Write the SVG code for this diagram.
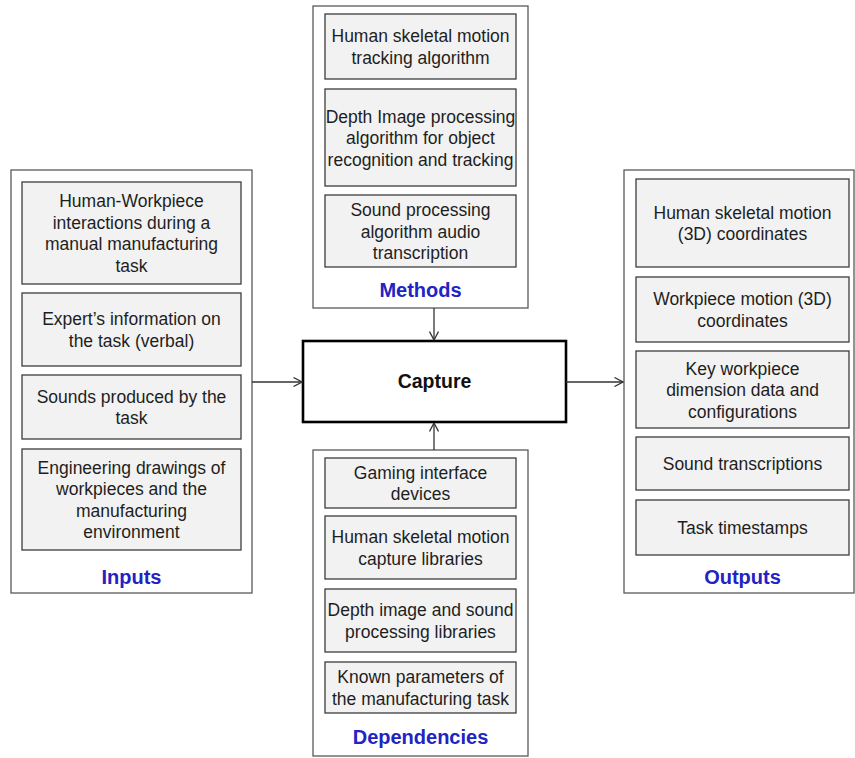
<svg xmlns="http://www.w3.org/2000/svg" width="855" height="758" viewBox="0 0 855 758">
  <style>
    .outer { fill: #ffffff; stroke: #5a5a5a; stroke-width: 1.3; }
    .inner { fill: #f2f2f2; stroke: #3c3c3c; stroke-width: 1.3; }
    .core { fill: #ffffff; stroke: #000000; stroke-width: 2.6; }
    .t { font-family: "Liberation Sans", Arial, sans-serif; font-size: 17.5px; fill: #1e1e1e; text-anchor: middle; }
    .head { font-family: "Liberation Sans", Arial, sans-serif; font-size: 20px; font-weight: bold; fill: #2323c4; text-anchor: middle; }
    .core-t { font-family: "Liberation Sans", Arial, sans-serif; font-size: 19.5px; font-weight: bold; fill: #111111; text-anchor: middle; }
    .conn { stroke: #333333; stroke-width: 1.3; fill: none; }
  </style>
  <defs>
    <marker id="chev" viewBox="0 0 10 10" refX="9.5" refY="5" markerWidth="10" markerHeight="10" markerUnits="userSpaceOnUse" orient="auto">
      <path d="M1,0.5 L9.5,5 L1,9.5" fill="none" stroke="#333333" stroke-width="1.3"/>
    </marker>
  </defs>
  <rect width="855" height="758" fill="#ffffff"/>

  <!-- Inputs -->
  <g id="inputs">
    <rect class="outer" x="11" y="170" width="241" height="423"/>
    <rect class="inner" x="22" y="182" width="219" height="102"/>
    <text class="t"><tspan x="131.5" y="207">Human-Workpiece</tspan><tspan x="131.5" y="228.5">interactions during a</tspan><tspan x="131.5" y="250">manual manufacturing</tspan><tspan x="131.5" y="271.5">task</tspan></text>
    <rect class="inner" x="22" y="293" width="219" height="73"/>
    <text class="t"><tspan x="131.5" y="325">Expert’s information on</tspan><tspan x="131.5" y="346.5">the task (verbal)</tspan></text>
    <rect class="inner" x="22" y="375" width="219" height="64"/>
    <text class="t"><tspan x="131.5" y="402.5">Sounds produced by the</tspan><tspan x="131.5" y="424">task</tspan></text>
    <rect class="inner" x="22" y="449" width="219" height="101"/>
    <text class="t"><tspan x="131.5" y="473.5">Engineering drawings of</tspan><tspan x="131.5" y="495">workpieces and the</tspan><tspan x="131.5" y="516.5">manufacturing</tspan><tspan x="131.5" y="538">environment</tspan></text>
    <text class="head" x="131.5" y="584">Inputs</text>
  </g>

  <!-- Methods -->
  <g id="methods">
    <rect class="outer" x="313" y="6" width="215" height="302"/>
    <rect class="inner" x="325" y="14" width="191" height="65"/>
    <text class="t"><tspan x="420.5" y="42">Human skeletal motion</tspan><tspan x="420.5" y="63.5">tracking algorithm</tspan></text>
    <rect class="inner" x="325" y="89" width="191" height="97"/>
    <text class="t"><tspan x="420.5" y="122.5">Depth Image processing</tspan><tspan x="420.5" y="144">algorithm for object</tspan><tspan x="420.5" y="165.5">recognition and tracking</tspan></text>
    <rect class="inner" x="325" y="195" width="191" height="72"/>
    <text class="t"><tspan x="420.5" y="216">Sound processing</tspan><tspan x="420.5" y="237.5">algorithm audio</tspan><tspan x="420.5" y="259">transcription</tspan></text>
    <text class="head" x="420.5" y="297">Methods</text>
  </g>

  <!-- Capture -->
  <g id="capture">
    <rect class="core" x="303" y="341" width="263" height="81"/>
    <text class="core-t" x="434.5" y="388">Capture</text>
  </g>

  <!-- Dependencies -->
  <g id="dependencies">
    <rect class="outer" x="313" y="450" width="215" height="306"/>
    <rect class="inner" x="325" y="458" width="191" height="50"/>
    <text class="t"><tspan x="420.5" y="478.5">Gaming interface</tspan><tspan x="420.5" y="500">devices</tspan></text>
    <rect class="inner" x="325" y="516" width="191" height="63"/>
    <text class="t"><tspan x="420.5" y="543">Human skeletal motion</tspan><tspan x="420.5" y="564.5">capture libraries</tspan></text>
    <rect class="inner" x="325" y="589" width="191" height="63"/>
    <text class="t"><tspan x="420.5" y="616">Depth image and sound</tspan><tspan x="420.5" y="637.5">processing libraries</tspan></text>
    <rect class="inner" x="325" y="662" width="191" height="51"/>
    <text class="t"><tspan x="420.5" y="683">Known parameters of</tspan><tspan x="420.5" y="704.5">the manufacturing task</tspan></text>
    <text class="head" x="420.5" y="744">Dependencies</text>
  </g>

  <!-- Outputs -->
  <g id="outputs">
    <rect class="outer" x="624" y="170" width="230" height="423"/>
    <rect class="inner" x="636" y="179" width="213" height="88"/>
    <text class="t"><tspan x="742.5" y="218.5">Human skeletal motion</tspan><tspan x="742.5" y="240">(3D) coordinates</tspan></text>
    <rect class="inner" x="636" y="277" width="213" height="65"/>
    <text class="t"><tspan x="742.5" y="305">Workpiece motion (3D)</tspan><tspan x="742.5" y="326.5">coordinates</tspan></text>
    <rect class="inner" x="636" y="351" width="213" height="77"/>
    <text class="t"><tspan x="742.5" y="374.5">Key workpiece</tspan><tspan x="742.5" y="396">dimension data and</tspan><tspan x="742.5" y="417.5">configurations</tspan></text>
    <rect class="inner" x="636" y="437" width="213" height="53"/>
    <text class="t" x="742.5" y="470">Sound transcriptions</text>
    <rect class="inner" x="636" y="500" width="213" height="55"/>
    <text class="t" x="742.5" y="534">Task timestamps</text>
    <text class="head" x="742.5" y="584">Outputs</text>
  </g>

  <!-- Connectors -->
  <g id="connectors">
    <line class="conn" x1="252" y1="382" x2="302" y2="382" marker-end="url(#chev)"/>
    <line class="conn" x1="566" y1="382" x2="623" y2="382" marker-end="url(#chev)"/>
    <line class="conn" x1="434" y1="308" x2="434" y2="340" marker-end="url(#chev)"/>
    <line class="conn" x1="434" y1="450" x2="434" y2="423" marker-end="url(#chev)"/>
  </g>
</svg>
